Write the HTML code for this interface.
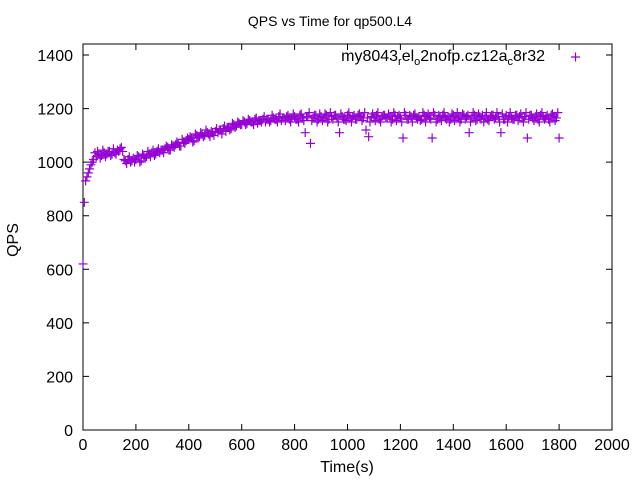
<!DOCTYPE html>
<html><head><meta charset="utf-8"><style>
body{margin:0;background:#fff}
svg text{font-family:"Liberation Sans",sans-serif;font-size:16px;fill:#000}
</style></head><body>
<svg id="c" width="640" height="480">
<rect width="640" height="480" fill="#fff"/>
<text x="330" y="26" text-anchor="middle" style="font-size:14px">QPS vs Time for qp500.L4</text>
<g id="axes"></g>
<g id="pts"></g>
<text x="545" y="61" text-anchor="end" style="font-size:16px">my8043<tspan dy="4" style="font-size:11px">r</tspan><tspan dy="-4">el</tspan><tspan dy="4" style="font-size:11px">o</tspan><tspan dy="-4">2nofp.cz12a</tspan><tspan dy="4" style="font-size:11px">c</tspan><tspan dy="-4">8r32</tspan></text>
<path d="M571,57h9M575.5,52.5v9" stroke="#9400d3" stroke-width="1.2"/>
<text x="347" y="472" text-anchor="middle">Time(s)</text>
<text transform="translate(18,240) rotate(-90)" text-anchor="middle">QPS</text>
</svg>
<script>
const xTicks=[0,200,400,600,800,1000,1200,1400,1600,1800,2000];
const yTicks=[0,200,400,600,800,1000,1200,1400];
const step=10;
const qps=[620,930,960,990,1010,1020,1030,1025,1035,1030,
1040,1030,1035,1045,1050,1040,1005,1010,1000,1015,
1010,1020,1005,1025,1020,1030,1035,1025,1040,1035,
1045,1050,1055,1045,1060,1065,1070,1060,1075,1080,
1085,1090,1080,1100,1095,1105,1100,1110,1095,1110,
1115,1110,1120,1125,1115,1130,1125,1140,1135,1145,
1140,1150,1145,1155,1150,1160,1145,1155,1160,1150,
1160,1155,1165,1160,1170,1155,1165,1170,1160,1165,
1170,1160,1175,1165,1110,1170,1070,1165,1175,1160,
1170,1165,1175,1160,1170,1175,1165,1110,1170,1160,
1175,1165,1170,1160,1175,1170,1165,1120,1095,1170,
1165,1175,1160,1170,1175,1165,1170,1160,1175,1170,
1165,1090,1175,1160,1170,1175,1165,1170,1160,1175,
1170,1165,1090,1175,1160,1170,1175,1165,1170,1160,
1175,1170,1165,1160,1175,1170,1110,1165,1175,1160,
1170,1175,1165,1160,1170,1175,1165,1170,1110,1160,
1175,1170,1165,1160,1175,1170,1165,1170,1090,1175,
1165,1170,1160,1175,1170,1165,1160,1175,1170,1165,
1090];
const qpsHalf=[850,945,975,1000,1035,1040,1015,1045,1020,1040,
1025,1050,1030,1040,1055,1010,995,1020,1005,1000,
1025,1000,1030,1015,1040,1020,1045,1030,1050,1045,
1035,1060,1045,1065,1055,1075,1060,1085,1070,1090,
1095,1075,1105,1090,1110,1095,1120,1105,1115,1100,
1125,1120,1105,1135,1130,1120,1145,1130,1150,1140,
1155,1140,1160,1150,1140,1165,1155,1150,1170,1160,
1150,1175,1160,1150,1180,1165,1155,1175,1150,1180,
1160,1150,1180,1155,1170,1185,1155,1175,1150,1180,
1155,1180,1150,1185,1160,1175,1150,1180,1160,1155,
1185,1150,1175,1160,1180,1155,1185,1165,1150,1180,
1155,1185,1150,1175,1165,1180,1150,1185,1155,1175,
1150,1185,1160,1175,1150,1180,1160,1155,1185,1150,
1180,1160,1185,1150,1175,1155,1185,1160,1150,1180,
1155,1185,1150,1180,1160,1175,1150,1185,1155,1180,
1160,1150,1185,1155,1175,1160,1185,1150,1180,1160,
1150,1185,1160,1175,1155,1180,1150,1185,1160,1175,
1155,1180,1150,1185,1160,1175,1150,1180,1155,1185];
const X0=83,X1=612,Y0=430,Y1=44;
const sx=v=>X0+(v-0)/2000*(X1-X0);
const sy=v=>Y0-(v/1400)*(Y0-55);
const NS='http://www.w3.org/2000/svg';
const ax=document.getElementById('axes');
function mk(t,a,p){const e=document.createElementNS(NS,t);for(const k in a)e.setAttribute(k,a[k]);p.appendChild(e);return e;}
const fr=mk('rect',{x:X0,y:Y1,width:X1-X0,height:Y0-Y1,fill:'none',stroke:'#000','stroke-width':1},ax);


xTicks.forEach(t=>{const x=sx(t);
mk('path',{d:`M${x},${Y0}v-6M${x},${Y1}v6`,stroke:'#000'},ax);
const l=mk('text',{x:x,y:Y0+20,'text-anchor':'middle'},ax);l.textContent=t;

});
yTicks.forEach(t=>{const y=sy(t);
mk('path',{d:`M${X0},${y}h6M${X1},${y}h-6`,stroke:'#000'},ax);
const l=mk('text',{x:73,y:y+6,'text-anchor':'end'},ax);l.textContent=t;

});
const pg=document.getElementById('pts');
let d='';
qps.forEach((v,i)=>{const x=sx(i*step),y=sy(v);d+=`M${x-4.5},${y}h9M${x},${y-4.5}v9`;});
qpsHalf.forEach((v,i)=>{const x=sx(i*step+step/2),y=sy(v);d+=`M${x-4.5},${y}h9M${x},${y-4.5}v9`;});
const p=mk('path',{d:d,stroke:'#9400d3','stroke-width':1.2,fill:'none'},pg);


</script>
</body></html>
